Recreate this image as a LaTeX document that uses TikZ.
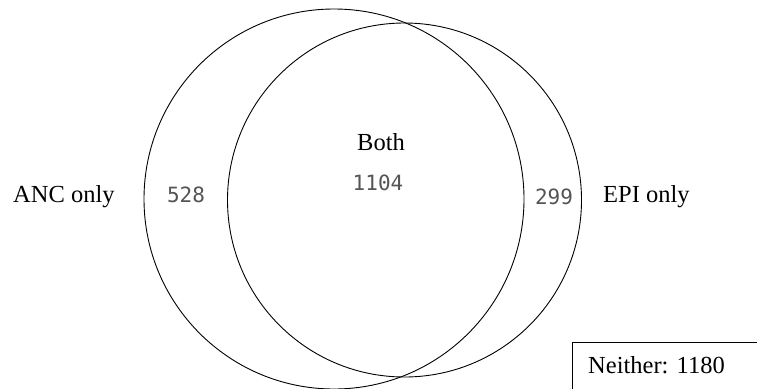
\documentclass[tikz,border=0pt]{standalone}
\usepackage{fontspec}
\setmainfont{Liberation Serif}
\newfontfamily\numfont{DejaVu Sans Mono}
\definecolor{numgray}{HTML}{555555}
\tikzset{
  setcircle/.style={draw=black, line width=0.9pt},
  lbl/.style={font=\fontsize{24.5}{28}\selectfont, inner sep=0pt, anchor=base},
  num/.style={font=\numfont\fontsize{21}{24}\selectfont, text=numgray, inner sep=0pt, anchor=base},
}
\begin{document}
\begin{tikzpicture}[x=1pt,y=-1pt]
\useasboundingbox (0,0) rectangle (757,388);
\clip (0,0) rectangle (757,388);
\fill[white] (0,0) rectangle (757,388);
\draw[setcircle] (334,199) circle (190);
\draw[setcircle] (404.5,200) circle (177);
\node[lbl, anchor=base west] (anc) at (13,202) {ANC only};
\node[lbl, anchor=base west] (epi) at (603,202) {EPI only};
\node[lbl] (both) at (381,150) {Both};
\node[num] (n528) at (186,202) {528};
\node[num] (n1104) at (378,190) {1104};
\node[num] (n299) at (554,204) {299};
\draw[line width=0.9pt] (572,400) -- (572,342) -- (770,342);
\node[lbl, anchor=base west] (neither) at (588,373) {Neither: 1180};
\end{tikzpicture}
\end{document}
